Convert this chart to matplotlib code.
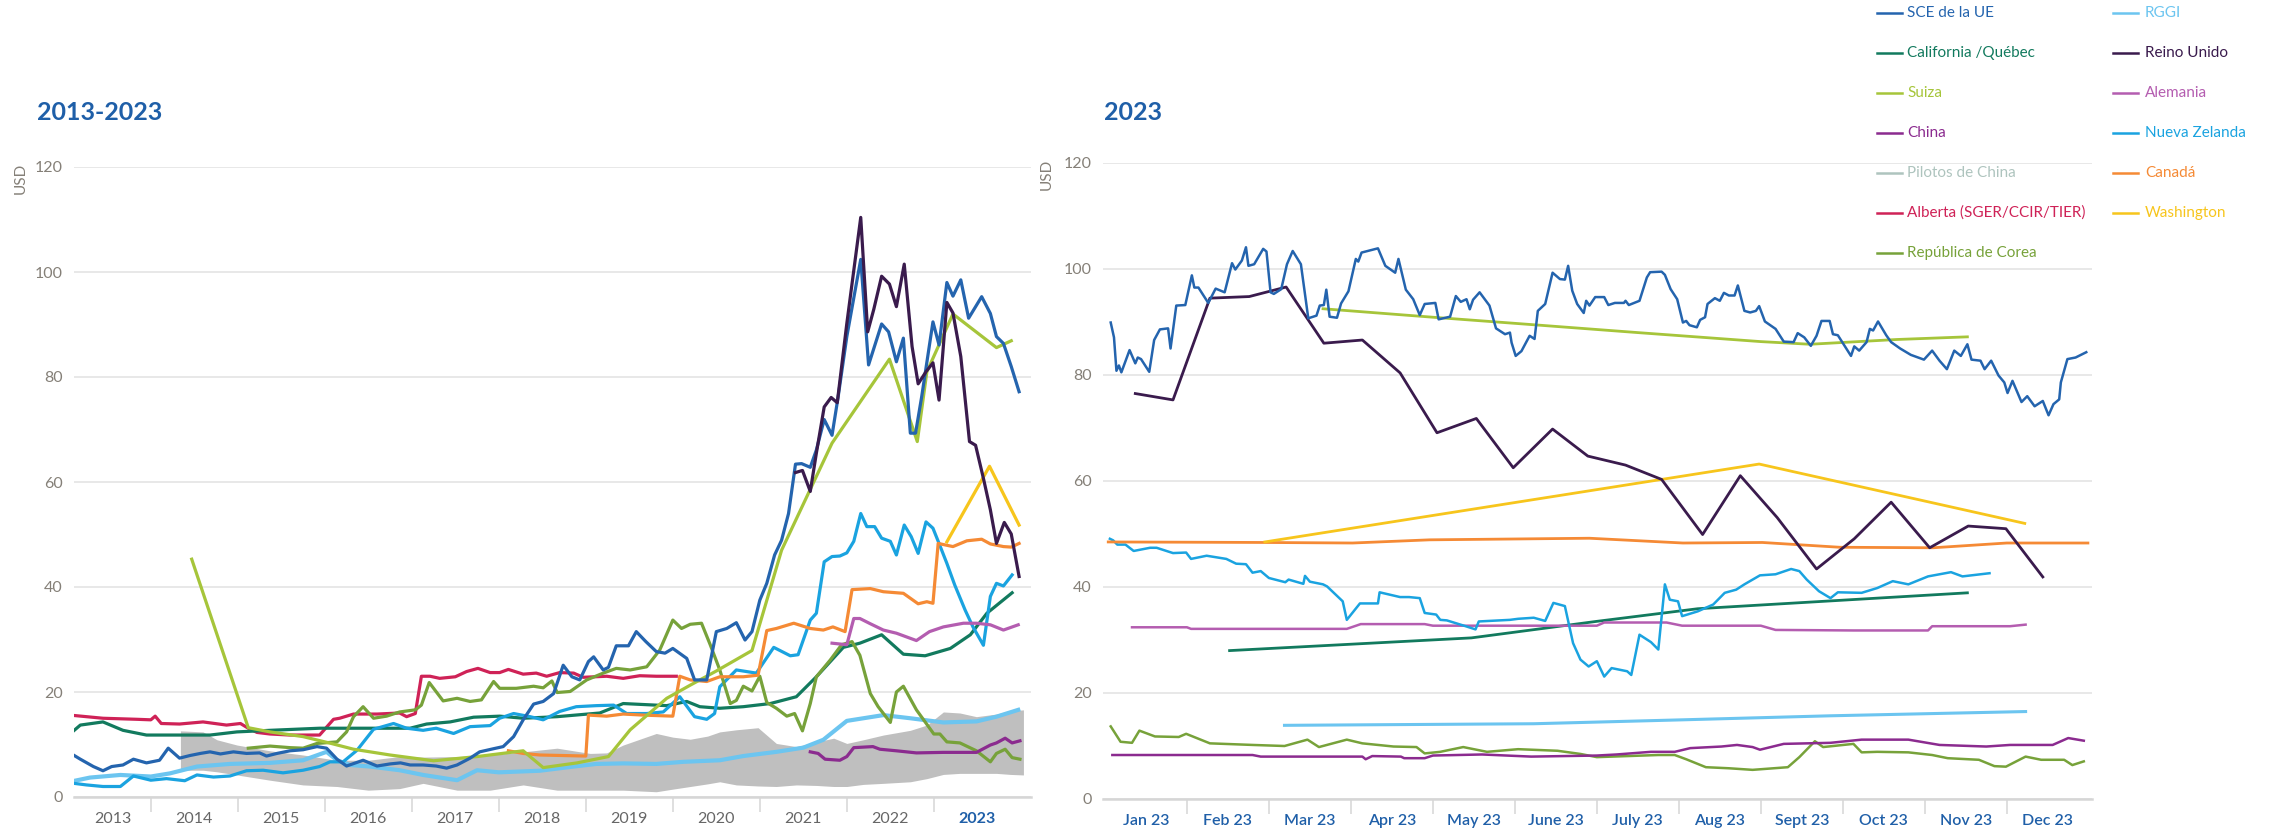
import matplotlib.pyplot as plt
from matplotlib.lines import Line2D

plt.rcParams['font.family'] = ['Lato', 'DejaVu Sans']

# ---------------- colours ----------------
C_EU = '#2464ae'
C_CAL = '#127a5e'
C_SUI = '#a6c53a'
C_CHN = '#8b2b8f'
C_PIL = '#aec4be'
C_BAND = '#bfbfbf'
C_ALB = '#cf2257'
C_KOR = '#77a23a'
C_RGGI = '#6cc5f0'
C_UK = '#3a1b4d'
C_GER = '#b45db0'
C_NZ = '#1aa3e0'
C_CAN = '#f58a35'
C_WA = '#f7c51c'
BLUE = '#1f5fa8'

# ---------------- left panel data: decimal year, USD ----------------
eu_x = [2013.07, 2013.19, 2013.34, 2013.45, 2013.55, 2013.68, 2013.8, 2013.95, 2014.1, 2014.2,
        2014.33, 2014.45, 2014.57, 2014.68, 2014.8, 2014.95, 2015.1, 2015.25, 2015.33, 2015.45,
        2015.6, 2015.75, 2015.91, 2016.02, 2016.14, 2016.25, 2016.44, 2016.6, 2016.75, 2016.87,
        2016.98, 2017.13, 2017.28, 2017.4, 2017.52, 2017.67, 2017.78, 2017.94, 2018.05, 2018.17,
        2018.28, 2018.4, 2018.51, 2018.63, 2018.74, 2018.84, 2018.93, 2019.03, 2019.09, 2019.2,
        2019.26, 2019.35, 2019.49, 2019.58, 2019.69, 2019.81, 2019.91, 2020.0, 2020.16, 2020.25,
        2020.39, 2020.5, 2020.62, 2020.73, 2020.83, 2020.91, 2021.0, 2021.08, 2021.17, 2021.25,
        2021.33, 2021.41, 2021.48, 2021.58, 2021.65, 2021.74, 2021.83, 2021.9, 2022.0, 2022.16,
        2022.25, 2022.4, 2022.48, 2022.57, 2022.65, 2022.73, 2022.79, 2022.86, 2022.99, 2023.06,
        2023.15, 2023.22, 2023.31, 2023.4, 2023.55, 2023.65, 2023.72, 2023.8, 2023.89, 2023.98]
eu_y = [8.4, 7.2, 5.8, 5.0, 5.8, 6.1, 7.2, 6.5, 7.0, 9.3,
        7.4, 7.9, 8.3, 8.6, 8.2, 8.6, 8.3, 8.4, 7.8, 8.3,
        8.8, 9.0, 9.6, 9.3, 7.2, 5.9, 7.0, 5.9, 6.3, 6.5,
        6.1, 6.1, 5.9, 5.5, 6.1, 7.4, 8.6, 9.2, 9.6, 11.5,
        14.7, 17.7, 18.2, 19.7, 25.1, 22.9, 22.3, 25.8, 26.7, 24.2,
        24.7, 28.8, 28.8, 31.5, 29.6, 27.7, 27.4, 28.3, 26.4, 22.3,
        22.3, 31.5, 32.1, 33.2, 29.9, 31.5, 37.5, 40.7, 46.1, 48.9,
        54.0, 63.4, 63.5, 62.8, 66.1, 71.9, 68.9, 76.2, 87.7, 102.4,
        82.3, 90.1, 88.6, 82.9, 87.4, 69.3, 69.3, 76.2, 90.5, 86.1,
        98.0, 95.4, 98.5, 91.2, 95.3, 92.1, 87.7, 86.4, 82.0, 77.2]

uk_x = [2021.41, 2021.49, 2021.58, 2021.65, 2021.74, 2021.82, 2021.89, 2022.0, 2022.16, 2022.24,
        2022.31, 2022.4, 2022.49, 2022.57, 2022.66, 2022.75, 2022.82, 2022.91, 2022.99, 2023.06,
        2023.15, 2023.22, 2023.31, 2023.41, 2023.48, 2023.57, 2023.65, 2023.72, 2023.81, 2023.89,
        2023.98]
uk_y = [61.8, 62.2, 58.2, 65.5, 74.3, 76.1, 75.1, 90.2, 110.4, 88.6,
        92.9, 99.2, 97.7, 93.4, 101.5, 85.8, 78.7, 81.0, 82.7, 75.6,
        94.2, 92.2, 83.9, 67.7, 67.0, 60.7, 54.7, 48.3, 52.3, 50.1,
        42.0]

sui_x = [2014.47, 2015.12, 2015.37, 2015.75, 2016.05, 2016.33, 2016.75, 2017.25, 2017.75, 2018.28,
         2018.51, 2018.9, 2019.26, 2019.51, 2019.93, 2020.2, 2020.5, 2020.91, 2021.25, 2021.83,
         2022.49, 2022.81, 2022.92, 2023.22, 2023.72, 2023.89]
sui_y = [45.3, 13.2, 12.4, 11.5, 10.3, 9.1, 8.0, 6.9, 7.7, 8.8,
         5.6, 6.5, 7.7, 12.8, 18.8, 21.3, 24.0, 27.9, 47.0, 67.4,
         83.4, 67.7, 81.0, 92.0, 85.6, 86.9]

cal_x = [2013.07, 2013.19, 2013.45, 2013.68, 2013.95, 2014.3, 2014.68, 2014.99, 2015.37, 2015.94,
         2016.5, 2016.98, 2017.17, 2017.44, 2017.71, 2018.01, 2018.28, 2018.67, 2019.16, 2019.43,
         2019.93, 2020.16, 2020.31, 2020.54, 2020.81, 2021.12, 2021.42, 2021.65, 2021.96, 2022.15,
         2022.4, 2022.65, 2022.9, 2023.19, 2023.42, 2023.61, 2023.9]
cal_y = [12.0, 13.7, 14.3, 12.7, 11.8, 11.8, 11.8, 12.4, 12.7, 13.1,
         13.1, 13.1, 13.9, 14.3, 15.2, 15.4, 15.0, 15.3, 16.0, 17.8,
         17.4, 18.2, 17.2, 16.9, 17.2, 17.8, 19.1, 22.9, 28.5, 29.3,
         30.9, 27.2, 26.9, 28.3, 30.9, 35.0, 38.9]

nz_x = [2013.07, 2013.26, 2013.45, 2013.65, 2013.8, 2014.0, 2014.18, 2014.39, 2014.53, 2014.72,
        2014.91, 2015.1, 2015.29, 2015.52, 2015.75, 2015.94, 2016.06, 2016.21, 2016.37, 2016.56,
        2016.79, 2016.94, 2017.13, 2017.28, 2017.48, 2017.67, 2017.9, 2018.01, 2018.17, 2018.36,
        2018.51, 2018.7, 2018.89, 2019.12, 2019.32, 2019.47, 2019.7, 2019.89, 2020.08, 2020.25,
        2020.39, 2020.48, 2020.54, 2020.73, 2020.96, 2021.16, 2021.35, 2021.44, 2021.58, 2021.65,
        2021.74, 2021.83, 2021.92, 2022.0, 2022.08, 2022.16, 2022.23, 2022.32, 2022.4, 2022.5,
        2022.57, 2022.66, 2022.74, 2022.82, 2022.91, 2022.99, 2023.06, 2023.15, 2023.24, 2023.36,
        2023.45, 2023.57, 2023.65, 2023.72, 2023.8, 2023.9]
nz_y = [2.7, 2.3, 2.0, 2.0, 4.0, 3.2, 3.5, 3.1, 4.2, 3.8,
        4.0, 5.0, 5.1, 4.6, 5.1, 5.8, 6.7, 6.7, 8.9, 12.9,
        14.0, 13.1, 12.7, 13.1, 12.1, 13.4, 13.6, 15.0, 15.9, 15.3,
        14.7, 16.3, 17.2, 17.4, 17.5, 15.9, 15.9, 16.2, 19.1, 15.3,
        14.8, 15.9, 21.0, 24.2, 23.6, 28.5, 26.9, 27.1, 33.7, 35.0,
        44.8, 45.8, 45.9, 46.5, 48.7, 54.0, 51.5, 51.5, 49.3, 48.7,
        46.1, 51.8, 49.6, 46.4, 52.4, 51.2, 48.3, 44.5, 40.4, 35.6,
        32.4, 28.9, 38.2, 40.7, 40.2, 42.3]

rggi_x = [2013.07, 2013.3, 2013.65, 2014.0, 2014.22, 2014.53, 2014.91, 2015.37, 2015.75, 2016.02,
          2016.14, 2016.29, 2016.52, 2016.86, 2017.13, 2017.52, 2017.75, 2018.0, 2018.47, 2018.86,
          2019.12, 2019.43, 2019.81, 2020.12, 2020.54, 2020.81, 2021.19, 2021.5, 2021.73, 2022.0,
          2022.42, 2022.73, 2023.11, 2023.49, 2023.72, 2023.97]
rggi_y = [2.9, 3.7, 4.2, 3.9, 4.5, 5.8, 6.3, 6.5, 7.0, 8.6,
          7.0, 6.1, 5.8, 5.1, 4.2, 3.2, 5.1, 4.7, 5.0, 5.8,
          6.3, 6.4, 6.3, 6.7, 7.0, 7.8, 8.6, 9.4, 10.9, 14.5,
          15.6, 15.0, 14.2, 14.4, 15.3, 16.6]

can_x = [2018.11, 2018.28, 2018.47, 2019.0, 2019.03, 2019.24, 2019.43, 2019.66, 2020.0, 2020.08,
         2020.2, 2020.39, 2020.54, 2020.81, 2020.98, 2021.08, 2021.19, 2021.39, 2021.58, 2021.73,
         2021.84, 2021.98, 2022.06, 2022.27, 2022.42, 2022.65, 2022.82, 2022.92, 2022.99, 2023.05,
         2023.22, 2023.38, 2023.55, 2023.65, 2023.8, 2023.89, 2023.98]
can_y = [8.8, 8.3, 8.0, 7.8, 15.6, 15.4, 15.8, 15.6, 15.4, 23.0,
         22.3, 22.0, 22.9, 22.9, 23.2, 31.7, 32.1, 33.1, 32.1, 31.8,
         32.4, 31.5, 39.5, 39.7, 39.1, 38.8, 36.8, 37.2, 36.9, 48.3,
         47.7, 48.8, 49.1, 48.2, 47.7, 47.6, 48.3]

kor_x = [2015.12, 2015.37, 2015.6, 2015.75, 2015.91, 2016.14, 2016.25, 2016.33, 2016.44, 2016.56,
         2016.71, 2016.86, 2017.04, 2017.11, 2017.2, 2017.36, 2017.52, 2017.67, 2017.8, 2017.94,
         2018.01, 2018.2, 2018.4, 2018.51, 2018.61, 2018.67, 2018.82, 2019.01, 2019.2, 2019.35,
         2019.51, 2019.7, 2019.85, 2020.0, 2020.1, 2020.2, 2020.33, 2020.43, 2020.54, 2020.66,
         2020.73, 2020.81, 2020.91, 2021.0, 2021.08, 2021.19, 2021.31, 2021.4, 2021.49, 2021.58,
         2021.65, 2021.81, 2021.94, 2022.06, 2022.15, 2022.27, 2022.36, 2022.5, 2022.57, 2022.65,
         2022.8, 2023.0, 2023.07, 2023.15, 2023.3, 2023.49, 2023.65, 2023.72, 2023.82, 2023.9,
         2023.99]
kor_y = [9.3, 9.7, 9.4, 9.3, 10.2, 10.5, 12.4, 15.3, 17.2, 15.0,
         15.4, 16.2, 16.6, 17.5, 21.8, 18.3, 18.8, 18.2, 18.5, 22.0,
         20.7, 20.7, 21.1, 20.8, 22.1, 19.9, 20.1, 22.3, 23.6, 24.5,
         24.2, 24.8, 28.0, 33.7, 32.1, 32.9, 33.1, 29.0, 24.2, 17.8,
         18.4, 21.1, 20.2, 23.0, 18.0, 16.9, 15.4, 15.9, 12.6, 17.8,
         22.9, 26.1, 29.0, 29.6, 27.0, 19.7, 17.2, 14.2, 20.0, 21.1,
         16.6, 12.0, 12.0, 10.5, 10.3, 8.8, 6.7, 8.3, 9.1, 7.5,
         7.2]

alb_x = [2013.07, 2013.45, 2013.84, 2014.0, 2014.05, 2014.12, 2014.33, 2014.6, 2014.87, 2015.03,
         2015.12, 2015.22, 2015.37, 2015.6, 2015.94, 2016.1, 2016.17, 2016.33, 2016.6, 2016.86,
         2016.94, 2017.04, 2017.11, 2017.21, 2017.32, 2017.5, 2017.63, 2017.76, 2017.9, 2018.01,
         2018.11, 2018.28, 2018.43, 2018.55, 2018.7, 2018.86, 2018.97, 2019.24, 2019.43, 2019.62,
         2019.81, 2020.04]
alb_y = [15.6, 15.0, 14.8, 14.7, 15.4, 14.0, 13.9, 14.3, 13.7, 14.0,
         13.1, 12.3, 12.0, 11.8, 11.8, 14.8, 15.0, 15.8, 15.8, 16.0,
         15.3, 15.9, 23.0, 23.0, 22.6, 22.9, 23.9, 24.5, 23.7, 23.7,
         24.3, 23.4, 23.6, 23.0, 23.7, 23.6, 22.8, 23.0, 22.6, 23.1,
         23.0, 23.0]

ger_x = [2021.83, 2022.0, 2022.08, 2022.15, 2022.27, 2022.42, 2022.57, 2022.8, 2022.95, 2023.11,
         2023.34, 2023.49, 2023.65, 2023.8, 2023.97]
ger_y = [29.3, 29.0, 34.0, 34.0, 33.0, 31.8, 31.2, 29.8, 31.5, 32.4,
         33.1, 33.1, 32.8, 31.8, 32.8]

chn_x = [2021.58, 2021.67, 2021.75, 2021.92, 2022.0, 2022.08, 2022.3, 2022.38, 2022.57, 2022.8,
         2023.11, 2023.49, 2023.65, 2023.72, 2023.82, 2023.9, 2023.99]
chn_y = [8.6, 8.3, 7.2, 7.0, 7.7, 9.4, 9.6, 9.1, 8.8, 8.4,
         8.5, 8.5, 9.9, 10.3, 11.2, 10.3, 10.7]

wa_x = [2023.15, 2023.64, 2023.98]
wa_y = [48.6, 63.0, 51.8]

# China pilots: range band (min / max)
pil_x = [2014.34, 2014.6, 2014.76, 2014.99, 2015.37, 2015.75, 2016.14, 2016.5, 2016.86, 2017.13,
         2017.52, 2017.9, 2018.28, 2018.67, 2019.05, 2019.24, 2019.43, 2019.81, 2020.0, 2020.2,
         2020.4, 2020.54, 2020.73, 2020.98, 2021.19, 2021.42, 2021.65, 2021.85, 2022.0, 2022.19,
         2022.42, 2022.73, 2022.92, 2023.11, 2023.3, 2023.49, 2023.72, 2023.88, 2024.03]
pil_hi = [12.6, 12.4, 10.9, 9.9, 8.8, 8.0, 7.0, 7.0, 7.7, 7.6,
          7.7, 8.0, 8.6, 9.3, 8.3, 8.4, 9.9, 12.1, 11.4, 11.0,
          11.6, 12.4, 12.8, 13.2, 10.2, 9.6, 10.5, 11.2, 10.2, 10.9,
          11.8, 12.7, 13.7, 16.2, 16.0, 15.3, 15.8, 16.4, 16.6]
pil_lo = [5.1, 5.1, 4.8, 4.2, 3.2, 2.3, 2.0, 1.3, 1.6, 2.6,
          1.3, 1.3, 2.3, 1.3, 1.3, 1.3, 1.3, 1.0, 1.5, 2.0,
          2.5, 2.9, 2.3, 2.1, 2.0, 2.3, 2.2, 2.0, 2.0, 2.4,
          2.6, 2.9, 3.5, 4.3, 4.5, 4.5, 4.5, 4.3, 4.2]

years = list(range(2013, 2024))

# ---------------- right panel data: month position (0 = 1 Jan 2023), USD ----------------
eu23_m = [0.07, 0.11, 0.14, 0.17, 0.2, 0.3, 0.37, 0.4, 0.44, 0.54,
          0.6, 0.67, 0.77, 0.8, 0.87, 0.98, 1.06, 1.09, 1.14, 1.26,
          1.35, 1.46, 1.55, 1.59, 1.67, 1.72, 1.75, 1.82, 1.93, 1.97,
          2.02, 2.06, 2.15, 2.22, 2.29, 2.39, 2.48, 2.58, 2.62, 2.67,
          2.7, 2.74, 2.83, 2.88, 2.97, 3.06, 3.09, 3.13, 3.33, 3.42,
          3.54, 3.58, 3.67, 3.76, 3.84, 3.9, 4.03, 4.07, 4.21, 4.28,
          4.34, 4.41, 4.45, 4.49, 4.57, 4.69, 4.77, 4.88, 4.94, 4.96,
          5.01, 5.08, 5.18, 5.24, 5.28, 5.37, 5.46, 5.55, 5.61, 5.65,
          5.7, 5.76, 5.84, 5.87, 5.91, 5.98, 6.09, 6.14, 6.22, 6.33,
          6.35, 6.39, 6.52, 6.61, 6.65, 6.79, 6.83, 6.9, 6.98, 7.05,
          7.09, 7.13, 7.22, 7.26, 7.32, 7.35, 7.44, 7.5, 7.55, 7.61,
          7.68, 7.72, 7.8, 7.87, 7.94, 7.98, 8.05, 8.18, 8.28, 8.4,
          8.45, 8.53, 8.61, 8.68, 8.74, 8.84, 8.88, 8.94, 9.01, 9.1,
          9.14, 9.2, 9.29, 9.33, 9.37, 9.43, 9.53, 9.59, 9.7, 9.83,
          9.99, 10.09, 10.18, 10.27, 10.36, 10.44, 10.52, 10.57, 10.68, 10.73,
          10.81, 10.9, 10.97, 11.01, 11.07, 11.18, 11.25, 11.34, 11.44, 11.51,
          11.57, 11.64, 11.66, 11.74, 11.84, 11.97]
eu23_v = [89.9, 87.1, 80.8, 81.8, 80.5, 84.7, 82.2, 83.3, 83.0, 80.6,
          86.6, 88.6, 88.8, 85.0, 93.1, 93.2, 98.8, 96.5, 96.5, 93.6,
          96.3, 95.6, 101.1, 99.9, 101.6, 104.1, 100.6, 100.9, 103.8, 103.3,
          95.6, 95.3, 96.2, 100.9, 103.4, 100.9, 90.7, 91.2, 93.1, 93.2,
          96.1, 91.0, 90.8, 93.5, 95.8, 101.9, 101.4, 103.1, 103.9, 100.6,
          99.3, 101.9, 96.1, 94.3, 91.3, 93.4, 93.6, 90.5, 91.0, 94.9,
          93.8, 94.3, 92.4, 94.2, 95.6, 93.1, 88.8, 87.7, 88.0, 86.1,
          83.6, 84.5, 87.4, 86.8, 92.1, 93.4, 99.3, 98.1, 98.0, 100.6,
          95.9, 93.4, 91.7, 94.0, 93.1, 94.7, 94.7, 93.2, 93.6, 93.6,
          94.0, 93.2, 94.0, 98.4, 99.4, 99.5, 98.9, 96.2, 94.3, 89.9,
          90.2, 89.4, 89.0, 90.4, 90.9, 93.4, 94.5, 94.0, 95.5, 95.0,
          95.0, 96.9, 92.1, 91.8, 92.1, 93.0, 90.1, 88.7, 86.3, 86.2,
          87.9, 87.1, 85.5, 87.4, 90.2, 90.2, 87.7, 87.5, 85.8, 83.6,
          85.4, 84.6, 86.2, 88.7, 88.4, 90.1, 87.5, 86.2, 85.0, 83.8,
          82.9, 84.6, 82.7, 81.1, 84.6, 83.6, 85.8, 82.9, 82.7, 81.1,
          82.7, 79.9, 78.6, 76.6, 78.9, 74.9, 76.0, 74.1, 75.1, 72.4,
          74.5, 75.4, 78.6, 83.0, 83.3, 84.3]

uk23_m = [0.37, 0.83, 1.28, 1.76, 2.21, 2.67, 3.14, 3.6, 4.05, 4.53,
          4.98, 5.46, 5.89, 6.35, 6.79, 7.29, 7.75, 8.2, 8.68, 9.14,
          9.59, 10.06, 10.53, 10.99, 11.44]
uk23_v = [76.5, 75.3, 94.5, 94.8, 96.6, 86.0, 86.6, 80.4, 69.1, 71.8,
          62.5, 69.8, 64.7, 63.0, 60.3, 49.9, 61.0, 53.1, 43.4, 49.1,
          56.0, 47.4, 51.5, 51.0, 41.9]

sui23_m = [2.66, 4.0, 5.3, 6.5, 8.0, 8.6, 9.66, 10.52]
sui23_v = [92.5, 90.9, 89.4, 88.0, 86.3, 85.8, 86.7, 87.2]

wa23_m = [1.95, 7.98, 11.22]
wa23_v = [48.5, 63.2, 52.0]

can23_m = [0.04, 1.95, 3.02, 3.96, 5.91, 7.05, 8.02, 8.96, 10.1, 11.0, 11.99]
can23_v = [48.5, 48.4, 48.3, 48.9, 49.2, 48.3, 48.4, 47.5, 47.4, 48.3, 48.3]

nz23_m = [0.06, 0.1, 0.15, 0.25, 0.35, 0.55, 0.63, 0.83, 0.99, 1.05,
          1.24, 1.48, 1.6, 1.72, 1.8, 1.9, 2.0, 2.2, 2.24, 2.42,
          2.44, 2.5, 2.66, 2.71, 2.9, 2.95, 3.11, 3.33, 3.35, 3.6,
          3.71, 3.84, 3.9, 4.04, 4.09, 4.17, 4.4, 4.52, 4.56, 4.94,
          5.04, 5.23, 5.37, 5.47, 5.61, 5.71, 5.8, 5.9, 6.0, 6.09,
          6.18, 6.37, 6.42, 6.52, 6.66, 6.75, 6.83, 6.89, 6.99, 7.04,
          7.23, 7.42, 7.56, 7.7, 7.8, 7.99, 8.18, 8.37, 8.47, 8.56,
          8.71, 8.85, 8.94, 9.23, 9.42, 9.61, 9.8, 10.04, 10.32, 10.46,
          10.79]
nz23_v = [49.1, 48.8, 48.0, 48.0, 46.8, 47.4, 47.4, 46.4, 46.5, 45.3,
          45.9, 45.3, 44.4, 44.3, 42.7, 43.0, 41.7, 40.9, 41.4, 40.6,
          42.1, 41.0, 40.5, 40.1, 37.3, 33.8, 36.9, 36.9, 39.0, 38.1,
          38.1, 37.9, 35.1, 34.8, 33.8, 33.7, 32.6, 32.0, 33.5, 33.8,
          34.0, 34.2, 33.6, 37.0, 36.4, 29.4, 26.3, 25.0, 26.0, 23.1,
          24.7, 24.1, 23.4, 31.0, 29.6, 28.2, 40.5, 37.6, 37.3, 34.5,
          35.4, 36.7, 38.9, 39.5, 40.5, 42.2, 42.4, 43.4, 43.0, 41.4,
          39.2, 37.9, 39.0, 38.9, 39.8, 41.1, 40.5, 42.0, 42.8, 42.0,
          42.6]

cal23_m = [1.52, 4.47, 5.99, 7.23, 10.52]
cal23_v = [28.0, 30.4, 33.5, 35.9, 38.9]

ger23_m = [0.33, 1.0, 1.05, 2.95, 3.12, 3.9, 4.0, 6.0, 6.09, 6.85,
           7.04, 8.0, 8.18, 9.13, 10.04, 10.09, 11.04, 11.23]
ger23_v = [32.4, 32.4, 32.1, 32.1, 33.0, 33.0, 32.7, 32.7, 33.3, 33.3,
           32.7, 32.7, 31.9, 31.8, 31.8, 32.6, 32.6, 32.9]

chn23_m = [0.09, 1.8, 1.9, 3.14, 3.18, 3.26, 3.61, 3.65, 3.9, 4.0,
           4.6, 5.2, 6.0, 6.24, 6.66, 6.95, 7.14, 7.52, 7.71, 7.9,
           7.99, 8.28, 8.85, 9.23, 9.8, 10.18, 10.75, 11.04, 11.32, 11.56,
           11.75, 11.94]
chn23_v = [8.3, 8.3, 8.0, 8.0, 7.5, 8.1, 8.0, 7.7, 7.7, 8.2,
           8.4, 8.0, 8.2, 8.4, 8.9, 8.9, 9.6, 9.9, 10.2, 9.8,
           9.3, 10.4, 10.6, 11.2, 11.2, 10.2, 9.9, 10.2, 10.2, 10.2,
           11.5, 11.0]

kor23_m = [0.07, 0.19, 0.33, 0.42, 0.61, 0.9, 0.99, 1.28, 1.8, 2.19,
           2.47, 2.61, 2.95, 3.14, 3.52, 3.8, 3.9, 4.09, 4.37, 4.66,
           5.04, 5.52, 5.8, 6.0, 6.75, 6.95, 7.09, 7.33, 7.61, 7.9,
           8.33, 8.47, 8.66, 8.76, 9.13, 9.23, 9.42, 9.8, 10.09, 10.28,
           10.66, 10.85, 10.99, 11.23, 11.42, 11.7, 11.8, 11.94]
kor23_v = [13.7, 10.8, 10.6, 12.9, 11.8, 11.7, 12.3, 10.5, 10.2, 10.0,
           11.2, 9.8, 11.2, 10.5, 9.9, 9.8, 8.6, 8.9, 9.8, 8.9,
           9.4, 9.1, 8.5, 7.9, 8.3, 8.3, 7.5, 6.0, 5.8, 5.5,
           6.0, 7.9, 10.9, 9.8, 10.4, 8.8, 8.9, 8.8, 8.3, 7.7,
           7.4, 6.2, 6.1, 8.0, 7.4, 7.4, 6.4, 7.1]

rggi23_m = [2.19, 5.23, 6.95, 8.85, 11.23]
rggi23_v = [13.9, 14.2, 14.9, 15.7, 16.5]

months = ['Jan 23', 'Feb 23', 'Mar 23', 'Apr 23', 'May 23', 'June 23', 'July 23',
          'Aug 23', 'Sept 23', 'Oct 23', 'Nov 23', 'Dec 23']

legend_left = [('SCE de la UE', C_EU), ('California /Québec', C_CAL), ('Suiza', C_SUI),
               ('China', C_CHN), ('Pilotos de China', C_PIL),
               ('Alberta (SGER/CCIR/TIER)', C_ALB), ('República de Corea', C_KOR)]
legend_right = [('RGGI', C_RGGI), ('Reino Unido', C_UK), ('Alemania', C_GER),
                ('Nueva Zelanda', C_NZ), ('Canadá', C_CAN), ('Washington', C_WA)]

W, H = 2274, 832
fig = plt.figure(figsize=(W / 100, H / 100), dpi=100)
ax1 = fig.add_axes([74 / W, 35 / H, 957 / W, 630 / H])
ax2 = fig.add_axes([1103 / W, 33 / H, 989 / W, 636 / H])


def style(ax):
    for s in ['top', 'right', 'left']:
        ax.spines[s].set_visible(False)
    ax.spines['bottom'].set_color('#d6d6d6')
    ax.spines['bottom'].set_linewidth(1.8)
    ax.set_ylim(0, 120)
    ax.set_yticks(range(0, 121, 20))
    ax.yaxis.grid(True, color='#e2e2e2', linewidth=1.1)
    ax.set_axisbelow(True)
    ax.tick_params(axis='y', length=0, pad=8, labelsize=11.5, labelcolor='#858078')
    ax.tick_params(axis='x', which='major', length=0, pad=11, labelsize=11.5)
    ax.tick_params(axis='x', which='minor', length=11, width=1.1, color='#d6d6d6',
                   direction='out')


# ---------- left panel ----------
x0, x1 = 2013.117, 2024.117
ax1.fill_between(pil_x, pil_lo, pil_hi, color=C_BAND, linewidth=0, zorder=1)
lw = 2.3
ax1.plot(rggi_x, rggi_y, color=C_RGGI, lw=3.0, zorder=2)
ax1.plot(alb_x, alb_y, color=C_ALB, lw=lw, zorder=2)
ax1.plot(cal_x, cal_y, color=C_CAL, lw=lw, zorder=2)
ax1.plot(nz_x, nz_y, color=C_NZ, lw=lw, zorder=2)
ax1.plot(kor_x, kor_y, color=C_KOR, lw=lw, zorder=2)
ax1.plot(can_x, can_y, color=C_CAN, lw=lw, zorder=2)
ax1.plot(chn_x, chn_y, color=C_CHN, lw=lw, zorder=2)
ax1.plot(ger_x, ger_y, color=C_GER, lw=lw, zorder=2)
ax1.plot(sui_x, sui_y, color=C_SUI, lw=lw, zorder=2)
ax1.plot(eu_x, eu_y, color=C_EU, lw=lw, zorder=3)
ax1.plot(uk_x, uk_y, color=C_UK, lw=lw, zorder=3)
ax1.plot(wa_x, wa_y, color=C_WA, lw=lw, zorder=2)
style(ax1)
ax1.set_xlim(x0, x1)
centers = [(max(y, x0) + min(y + 1, x1)) / 2 for y in years]
ax1.set_xticks(centers)
ax1.set_xticklabels([str(y) for y in years])
ax1.set_xticks(years[1:], minor=True)
for lab, y in zip(ax1.get_xticklabels(), years):
    if y == 2023:
        lab.set_color(BLUE)
        lab.set_fontweight('bold')
    else:
        lab.set_color('#666666')

# ---------- right panel ----------
ax2.plot(rggi23_m, rggi23_v, color=C_RGGI, lw=2.2, zorder=2)
ax2.plot(kor23_m, kor23_v, color=C_KOR, lw=1.8, zorder=2)
ax2.plot(chn23_m, chn23_v, color=C_CHN, lw=1.8, zorder=2)
ax2.plot(cal23_m, cal23_v, color=C_CAL, lw=2.0, zorder=2)
ax2.plot(ger23_m, ger23_v, color=C_GER, lw=1.8, zorder=2)
ax2.plot(nz23_m, nz23_v, color=C_NZ, lw=1.8, zorder=2)
ax2.plot(can23_m, can23_v, color=C_CAN, lw=2.0, zorder=2)
ax2.plot(wa23_m, wa23_v, color=C_WA, lw=2.0, zorder=2)
ax2.plot(uk23_m, uk23_v, color=C_UK, lw=2.0, zorder=3)
ax2.plot(sui23_m, sui23_v, color=C_SUI, lw=2.0, zorder=3)
ax2.plot(eu23_m, eu23_v, color=C_EU, lw=1.8, zorder=3)
style(ax2)
ax2.set_xlim(-0.024, 12.04)
ax2.set_xticks([i + 0.5 for i in range(12)])
ax2.set_xticklabels(months, color=BLUE, fontweight='semibold')
ax2.set_xticks(range(1, 12), minor=True)

# ---------- titles, axis labels ----------
fig.text(37 / W, 1 - 113 / H, '2013-2023', ha='left', va='center', fontsize=18,
         fontweight='bold', color=BLUE)
fig.text(1104 / W, 1 - 113 / H, '2023', ha='left', va='center', fontsize=18,
         fontweight='bold', color=BLUE)
fig.text(21 / W, 1 - 178 / H, 'USD', rotation=90, ha='center', va='center', fontsize=11,
         color='#858078')
fig.text(1047 / W, 1 - 174 / H, 'USD', rotation=90, ha='center', va='center', fontsize=11,
         color='#858078')

# ---------- legend (two columns, top right) ----------
for col, entries in enumerate([legend_left, legend_right]):
    lx0 = [1877, 2113][col]
    tx = [1907, 2145][col]
    for row, (name, c) in enumerate(entries):
        yy = 1 - (13 + 40 * row) / H
        fig.add_artist(Line2D([lx0 / W, (lx0 + 25) / W], [yy, yy], color=c, lw=1.8))
        fig.text(tx / W, yy, name, ha='left', va='center', fontsize=11, color=c)

fig.savefig('out.png', dpi=100)
